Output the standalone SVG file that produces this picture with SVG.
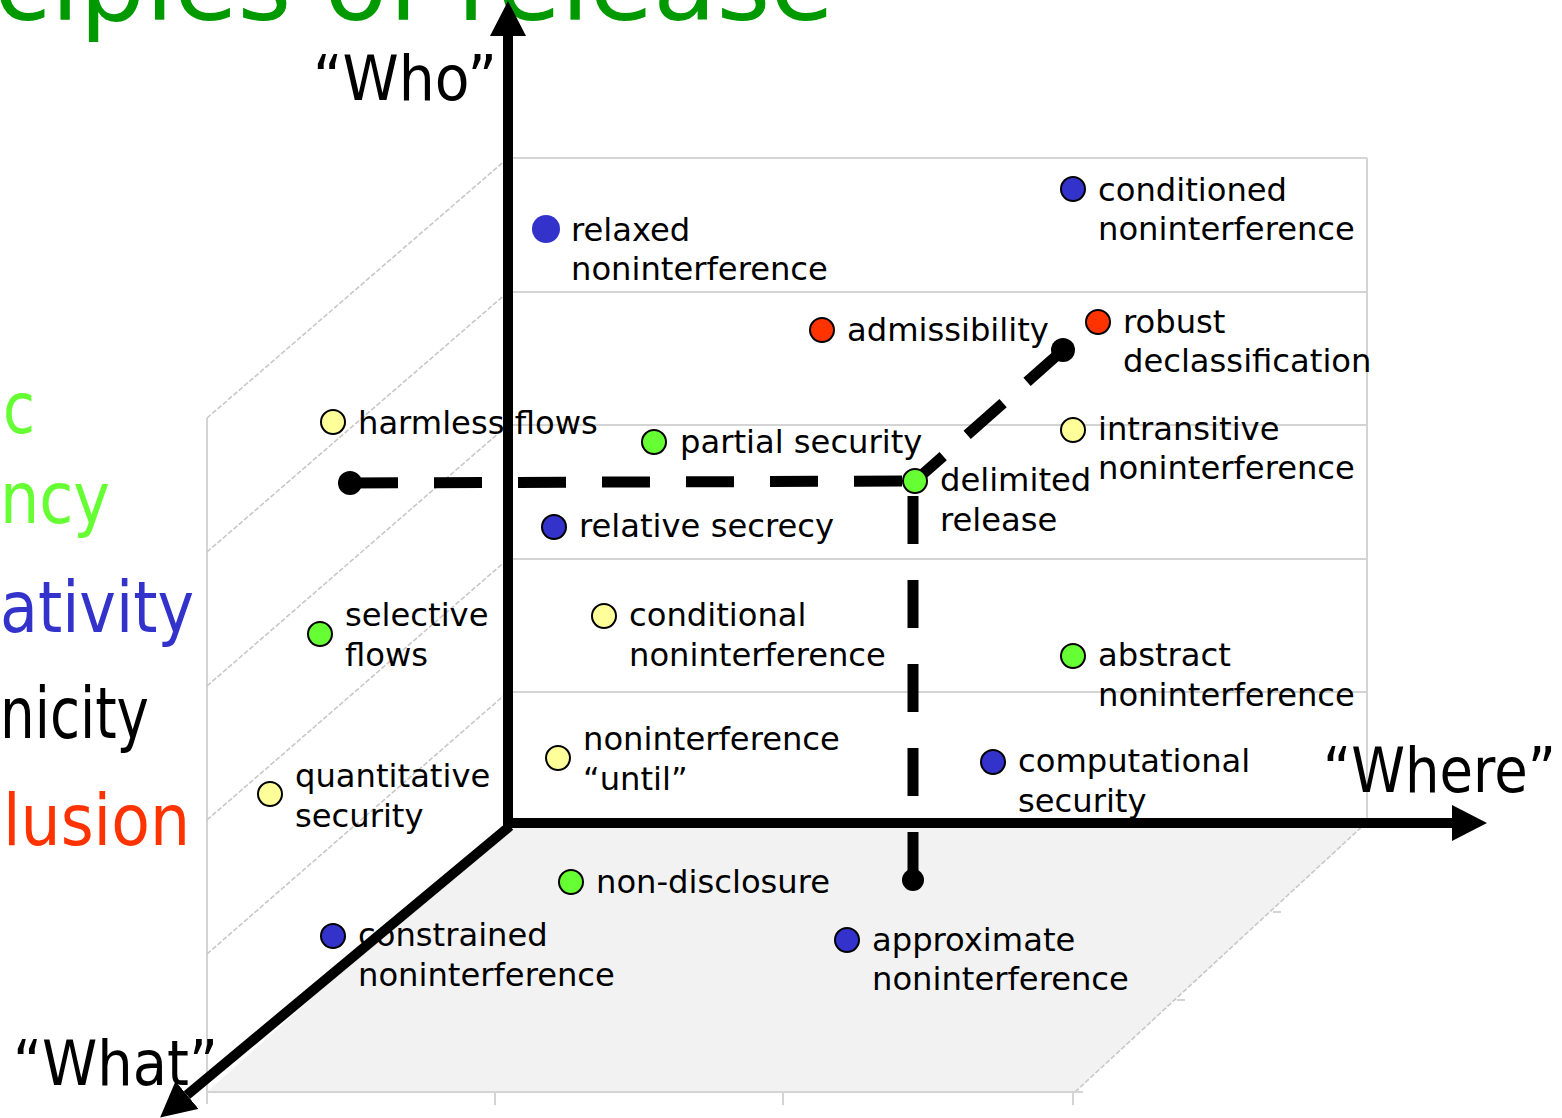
<svg xmlns="http://www.w3.org/2000/svg" width="1562" height="1118" viewBox="0 0 1562 1118">
<style>
.lbl{font-family:"DejaVu Sans","Liberation Sans",sans-serif;font-size:32.2px;fill:#000}
.big{font-family:"DejaVu Sans","Liberation Sans",sans-serif}
.wall{stroke:#d4d4d4;stroke-width:2;fill:none}
.diag{stroke:#c8c8c8;stroke-width:1.6;fill:none;stroke-dasharray:5 2}
.axis{stroke:#000;stroke-width:10;fill:none}
.dash{stroke:#000;stroke-width:11;fill:none}
.dot{stroke:#000;stroke-width:2}
.blue{fill:#3333cc}.red{fill:#ff3300}.yellow{fill:#ffff99}.green{fill:#66ff33}
</style>
<defs>
<marker id="arr" markerUnits="userSpaceOnUse" markerWidth="40" markerHeight="40" refX="0" refY="18" orient="auto">
<path d="M0,0 L35,18 L0,36 z" fill="#000"/>
</marker>
</defs>
<rect width="1562" height="1118" fill="#fff"/>

<g id="title">
<text class="big" x="-6" y="20" font-size="104" fill="#009900" textLength="840" lengthAdjust="spacingAndGlyphs">ciples of release</text>
</g>
<g id="principles">
<text class="big" x="3" y="433" font-size="71" fill="#66ff33" textLength="32" lengthAdjust="spacingAndGlyphs">c</text>
<text class="big" x="0" y="523" font-size="71" fill="#66ff33" textLength="110" lengthAdjust="spacingAndGlyphs">ncy</text>
<text class="big" x="0" y="632" font-size="71" fill="#3333cc" textLength="194" lengthAdjust="spacingAndGlyphs">ativity</text>
<text class="big" x="0" y="738" font-size="71" fill="#000" textLength="149" lengthAdjust="spacingAndGlyphs">nicity</text>
<text class="big" x="3" y="845" font-size="71" fill="#ff3300" textLength="187" lengthAdjust="spacingAndGlyphs">lusion</text>
</g>

<g id="box">
<polygon points="508,822 1367,822 1075,1092 207,1092" fill="#f2f2f2"/>
<line class="wall" x1="510" y1="158" x2="1367" y2="158"/>
<line class="wall" x1="510" y1="292" x2="1367" y2="292"/>
<line class="wall" x1="510" y1="425" x2="1367" y2="425"/>
<line class="wall" x1="510" y1="559" x2="1367" y2="559"/>
<line class="wall" x1="510" y1="692" x2="1367" y2="692"/>
<line class="wall" x1="1367" y1="158" x2="1367" y2="822"/>
<line class="wall" x1="207" y1="418" x2="207" y2="1104"/>
<line class="diag" x1="207" y1="418" x2="508" y2="158"/>
<line class="diag" x1="207" y1="552" x2="508" y2="292"/>
<line class="diag" x1="207" y1="686" x2="508" y2="425"/>
<line class="diag" x1="207" y1="820" x2="508" y2="559"/>
<line class="diag" x1="207" y1="954" x2="508" y2="692"/>
<line class="wall" x1="207" y1="1092" x2="1075" y2="1092"/>
<line class="wall" x1="495" y1="1092" x2="495" y2="1105"/>
<line class="wall" x1="783" y1="1092" x2="783" y2="1105"/>
<line class="wall" x1="1073" y1="1092" x2="1073" y2="1105"/>
<line class="diag" x1="1075" y1="1092" x2="1367" y2="822"/>
<line class="wall" x1="1075" y1="1092" x2="1083" y2="1092"/>
<line class="wall" x1="1177" y1="1000" x2="1185" y2="1000"/>
<line class="wall" x1="1273" y1="912" x2="1281" y2="912"/>
</g>

<g id="connectors">
<line class="axis" x1="508" y1="828" x2="508" y2="36" marker-end="url(#arr)"/>
<line class="axis" x1="503" y1="823" x2="1452" y2="823" marker-end="url(#arr)"/>
<line class="axis" x1="510" y1="826" x2="187" y2="1095" marker-end="url(#arr)"/>
<line class="dash" x1="350" y1="483" x2="914" y2="481" stroke-dasharray="48 36"/>
<line class="dash" x1="913" y1="880" x2="913" y2="481" stroke-dasharray="48 36"/>
<line class="dash" x1="1063" y1="350" x2="915" y2="481" stroke-dasharray="48 32"/>
<circle cx="350" cy="483" r="12" fill="#000"/>
<circle cx="1063" cy="350" r="12" fill="#000"/>
<circle cx="913" cy="880" r="11" fill="#000"/>
</g>

<g id="axis-labels">
<text class="big" x="313" y="100" font-size="62" textLength="184" lengthAdjust="spacingAndGlyphs">“Who”</text>
<text class="big" x="1323" y="792" font-size="62" textLength="233" lengthAdjust="spacingAndGlyphs">“Where”</text>
<text class="big" x="13" y="1085" font-size="62" textLength="205" lengthAdjust="spacingAndGlyphs">“What”</text>
</g>

<g id="relaxed-noninterference"><circle class="blue" cx="546" cy="229" r="14"/><text class="lbl" x="571" y="241">relaxed</text><text class="lbl" x="571" y="280">noninterference</text></g>
<g id="conditioned-noninterference"><circle class="dot blue" cx="1073" cy="189" r="12"/><text class="lbl" x="1098" y="201">conditioned</text><text class="lbl" x="1098" y="240">noninterference</text></g>
<g id="admissibility"><circle class="dot red" cx="822" cy="330" r="12"/><text class="lbl" x="847" y="341">admissibility</text></g>
<g id="robust-declassification"><circle class="dot red" cx="1098" cy="322" r="12"/><text class="lbl" x="1123" y="333">robust</text><text class="lbl" x="1123" y="372">declassification</text></g>
<g id="harmless-flows"><circle class="dot yellow" cx="333" cy="422" r="12"/><text class="lbl" x="358" y="434">harmless flows</text></g>
<g id="partial-security"><circle class="dot green" cx="654" cy="442" r="12"/><text class="lbl" x="680" y="453">partial security</text></g>
<g id="intransitive-noninterference"><circle class="dot yellow" cx="1073" cy="430" r="12"/><text class="lbl" x="1098" y="440">intransitive</text><text class="lbl" x="1098" y="479">noninterference</text></g>
<g id="delimited-release"><circle class="dot green" cx="915" cy="481" r="12"/><text class="lbl" x="940" y="491">delimited</text><text class="lbl" x="940" y="531">release</text></g>
<g id="relative-secrecy"><circle class="dot blue" cx="554" cy="527" r="12"/><text class="lbl" x="579" y="537">relative secrecy</text></g>
<g id="selective-flows"><circle class="dot green" cx="320" cy="634" r="12"/><text class="lbl" x="345" y="626">selective</text><text class="lbl" x="345" y="666">flows</text></g>
<g id="conditional-noninterference"><circle class="dot yellow" cx="604" cy="616" r="12"/><text class="lbl" x="629" y="626">conditional</text><text class="lbl" x="629" y="666">noninterference</text></g>
<g id="abstract-noninterference"><circle class="dot green" cx="1073" cy="656" r="12"/><text class="lbl" x="1098" y="666">abstract</text><text class="lbl" x="1098" y="706">noninterference</text></g>
<g id="noninterference-until"><circle class="dot yellow" cx="558" cy="758" r="12"/><text class="lbl" x="583" y="750">noninterference</text><text class="lbl" x="583" y="790">“until”</text></g>
<g id="computational-security"><circle class="dot blue" cx="993" cy="762" r="12"/><text class="lbl" x="1018" y="772">computational</text><text class="lbl" x="1018" y="812">security</text></g>
<g id="quantitative-security"><circle class="dot yellow" cx="270" cy="794" r="12"/><text class="lbl" x="295" y="787">quantitative</text><text class="lbl" x="295" y="827">security</text></g>
<g id="non-disclosure"><circle class="dot green" cx="571" cy="882" r="12"/><text class="lbl" x="596" y="893">non-disclosure</text></g>
<g id="constrained-noninterference"><circle class="dot blue" cx="333" cy="936" r="12"/><text class="lbl" x="358" y="946">constrained</text><text class="lbl" x="358" y="986">noninterference</text></g>
<g id="approximate-noninterference"><circle class="dot blue" cx="847" cy="940" r="12"/><text class="lbl" x="872" y="951">approximate</text><text class="lbl" x="872" y="990">noninterference</text></g>
</svg>
